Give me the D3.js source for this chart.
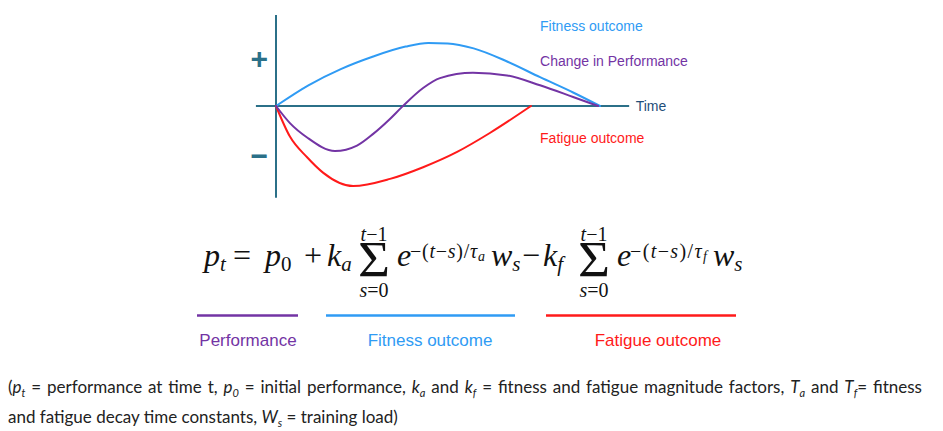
<!DOCTYPE html>
<html>
<head>
<meta charset="utf-8">
<script src="https://cdn.jsdelivr.net/npm/d3@7"></script>
<style>
  html, body { margin: 0; padding: 0; background: #ffffff; }
  svg { display: block; }
</style>
</head>
<body>
<svg id="chart" width="943" height="431"></svg>
<script>
// ---------------- DATA ----------------
// time units 0..100, value units -10..10 (schematic curves)
const fitnessTime = [0, 10, 20, 30, 40, 47, 53, 61, 71, 81.5, 91.7, 100];
const fitnessValue = [0, 2.3, 4.1, 5.5, 6.6, 7.0, 6.95, 6.4, 5.0, 3.2, 1.5, 0];

const performanceTime = [0, 4.3, 9.6, 18.2, 25, 30, 35, 38.9, 45.4, 50.6, 60.8, 71.3, 81.5, 91.7, 99.4];
const performanceValue = [0, -1.9, -3.5, -5.0, -4.4, -3.1, -1.5, -0.1, 2.0, 3.1, 3.7, 3.4, 2.3, 1.0, 0];

const fatigueTime = [0, 4.3, 9.6, 14.5, 23.8, 35.2, 45.4, 55.9, 66, 78.7];
const fatigueValue = [0, -3.4, -5.7, -7.4, -8.9, -8.1, -6.8, -5.1, -3.0, 0];

const seriesNames = ["Fitness outcome", "Change in Performance", "Fatigue outcome"];
const legendNames = ["Performance", "Fitness outcome", "Fatigue outcome"];
const axisLabel = "Time";
const signLabels = ["+", "\u2212"];

// ---------------- STYLE ----------------
const C_FIT = "#2f9bf4";
const C_PERF = "#7334a4";
const C_FAT = "#ff1a1a";
const C_AXIS = "#2b7088";
const C_TIME = "#1f4e79";

const svg = d3.select("#chart");

// scales
const x = d3.scaleLinear().domain([0, 100]).range([276, 600]);
const y = d3.scaleLinear().domain([-10, 10]).range([196, 16]);

// axes (plain lines as in the schematic)
svg.append("line")
  .attr("x1", x(0)).attr("x2", x(0))
  .attr("y1", y(10.1)).attr("y2", y(-10.2))
  .attr("stroke", C_AXIS).attr("stroke-width", 2);
svg.append("line")
  .attr("x1", x(-6.2)).attr("x2", x(109))
  .attr("y1", y(0)).attr("y2", y(0))
  .attr("stroke", C_AXIS).attr("stroke-width", 2);

const line = d3.line()
  .x(d => x(d[0])).y(d => y(d[1]))
  .curve(d3.curveMonotoneX);

function drawSeries(ts, vs, color) {
  const pts = ts.map((t, i) => [t, vs[i]]);
  svg.append("path")
    .attr("d", line(pts))
    .attr("fill", "none")
    .attr("stroke", color)
    .attr("stroke-width", 2)
    .attr("stroke-linejoin", "round")
    .attr("stroke-linecap", "round");
}
drawSeries(fitnessTime, fitnessValue, C_FIT);
drawSeries(fatigueTime, fatigueValue, C_FAT);
drawSeries(performanceTime, performanceValue, C_PERF);

const sans = "Arial, 'Liberation Sans', sans-serif";

// series labels
const labelPos = [
  { t: 81.5, v: 8.9, c: C_FIT },
  { t: 81.5, v: 5.0, c: C_PERF },
  { t: 81.5, v: -3.6, c: C_FAT }
];
seriesNames.forEach((n, i) => {
  svg.append("text")
    .attr("x", x(labelPos[i].t)).attr("y", y(labelPos[i].v))
    .attr("dominant-baseline", "central")
    .attr("font-family", sans).attr("font-size", 14)
    .attr("fill", labelPos[i].c)
    .text(n);
});
svg.append("text")
  .attr("x", x(111)).attr("y", y(0))
  .attr("dominant-baseline", "central")
  .attr("font-family", sans).attr("font-size", 14)
  .attr("fill", C_TIME)
  .text(axisLabel);

// + and - signs
svg.append("text")
  .attr("x", x(-5.2)).attr("y", y(5.3))
  .attr("text-anchor", "middle").attr("dominant-baseline", "central")
  .attr("font-family", sans).attr("font-size", 30).attr("font-weight", "bold")
  .attr("fill", C_AXIS).text(signLabels[0]);
svg.append("text")
  .attr("x", x(-5.2)).attr("y", y(-5.5))
  .attr("text-anchor", "middle").attr("dominant-baseline", "central")
  .attr("font-family", sans).attr("font-size", 30).attr("font-weight", "bold")
  .attr("fill", C_AXIS).text(signLabels[1]);

// ---------------- FORMULA ----------------
const serif = "'Liberation Serif', 'DejaVu Serif', serif";
const fg = svg.append("g").attr("font-family", serif).attr("fill", "#111");
const BL = 266;
function piece(xp, yp, txt, opts = {}) {
  const t = fg.append("text").attr("x", xp).attr("y", yp)
    .attr("font-size", opts.size || 32)
    .attr("font-style", opts.italic ? "italic" : "normal")
    .attr("text-anchor", opts.anchor || "start");
  if (Array.isArray(txt)) {
    txt.forEach(s => {
      const sp = t.append("tspan").text(s.t);
      if (s.italic !== undefined) sp.attr("font-style", s.italic ? "italic" : "normal");
      if (s.size) sp.attr("font-size", s.size);
      if (s.dy) sp.attr("dy", s.dy);
    });
  } else t.text(txt);
  if (opts.len) t.attr("textLength", opts.len).attr("lengthAdjust", "spacing");
  return t;
}
function sigma(cx) {
  fg.append("text")
    .attr("transform", `translate(${cx},275.5) scale(1.1,1)`)
    .attr("text-anchor", "middle")
    .attr("font-size", 50)
    .text("\u03a3");
  piece(cx, 241, [{ t: "t", italic: true }, { t: "\u22121", italic: false }], { size: 20, anchor: "middle" });
  piece(cx, 297, [{ t: "s", italic: true }, { t: "=0", italic: false }], { size: 20, anchor: "middle" });
}
// p_t
piece(204, BL, [{ t: "p", italic: true }, { t: "t", italic: true, size: 21, dy: 5 }]);
piece(233, BL, "=");
piece(265, BL, [{ t: "p", italic: true }, { t: "0", italic: false, size: 21, dy: 5 }]);
piece(304, BL, "+");
piece(327, BL, [{ t: "k", italic: true }, { t: "a", italic: true, size: 21, dy: 5 }]);
sigma(374);
piece(397, BL, "e", { italic: true });
piece(410, 258, [{ t: "\u2212(", italic: false }, { t: "t", italic: true }, { t: "\u2212", italic: false },
  { t: "s", italic: true }, { t: ")/", italic: false }, { t: "\u03c4", italic: true },
  { t: "a", italic: true, size: 14, dy: 3 }], { size: 20, len: 75 });
piece(491, BL, [{ t: "w", italic: true }, { t: "s", italic: true, size: 21, dy: 5 }]);
piece(522, BL, "\u2212");
piece(543, BL, [{ t: "k", italic: true }, { t: "f", italic: true, size: 21, dy: 5 }]);
sigma(594);
piece(617, BL, "e", { italic: true });
piece(630, 258, [{ t: "\u2212(", italic: false }, { t: "t", italic: true }, { t: "\u2212", italic: false },
  { t: "s", italic: true }, { t: ")/", italic: false }, { t: "\u03c4", italic: true },
  { t: "f", italic: true, size: 14, dy: 3 }], { size: 20, len: 77 });
piece(713, BL, [{ t: "w", italic: true }, { t: "s", italic: true, size: 21, dy: 5 }]);

// ---------------- LEGEND ----------------
const legendLines = [
  { x1: 197, x2: 298, c: C_PERF, lx: 248 },
  { x1: 326, x2: 515, c: C_FIT, lx: 430 },
  { x1: 546, x2: 736, c: C_FAT, lx: 658 }
];
legendNames.forEach((n, i) => {
  const L = legendLines[i];
  svg.append("line")
    .attr("x1", L.x1).attr("x2", L.x2).attr("y1", 315.5).attr("y2", 315.5)
    .attr("stroke", L.c).attr("stroke-width", 2.5);
  svg.append("text")
    .attr("x", L.lx).attr("y", 340)
    .attr("text-anchor", "middle").attr("dominant-baseline", "central")
    .attr("font-family", sans).attr("font-size", 17)
    .attr("fill", L.c).text(n);
});

// ---------------- FOOTNOTE ----------------
const noteFont = "Lato, 'Open Sans', sans-serif";
function note(yb, parts) {
  const t = svg.append("text").attr("x", 8).attr("y", yb)
    .attr("font-family", noteFont).attr("font-size", 17).attr("fill", "#222");
  parts.forEach(p => {
    const sp = t.append("tspan").text(p.t);
    if (p.i) sp.attr("font-style", "italic");
    if (p.sub) sp.attr("font-size", 11).attr("dy", 4);
    if (p.up) sp.attr("dy", -4);
  });
  return t;
}
const l1 = note(393, [
  { t: "(" }, { t: "p", i: true }, { t: "t", i: true, sub: true }, { t: " = performance at time t, ", up: true },
  { t: "p", i: true }, { t: "0", i: true, sub: true }, { t: " = initial performance, ", up: true },
  { t: "k", i: true }, { t: "a", i: true, sub: true }, { t: " and ", up: true },
  { t: "k", i: true }, { t: "f", i: true, sub: true }, { t: " =  fitness and fatigue magnitude factors, ", up: true },
  { t: "T", i: true }, { t: "a", i: true, sub: true }, { t: " and ", up: true },
  { t: "T", i: true }, { t: "f", i: true, sub: true }, { t: "=  fitness", up: true }
]);
// justify line 1 to the right margin
const targetW = 917;
const w1 = l1.node().getComputedTextLength();
const str1 = l1.text();
const nSpaces = (str1.match(/ /g) || []).length;
if (nSpaces > 0 && targetW > w1) l1.attr("word-spacing", (targetW - w1) / nSpaces);

note(423, [
  { t: "and fatigue decay time constants, " }, { t: "W", i: true }, { t: "s", i: true, sub: true },
  { t: " = training load)", up: true }
]);
</script>
</body>
</html>
